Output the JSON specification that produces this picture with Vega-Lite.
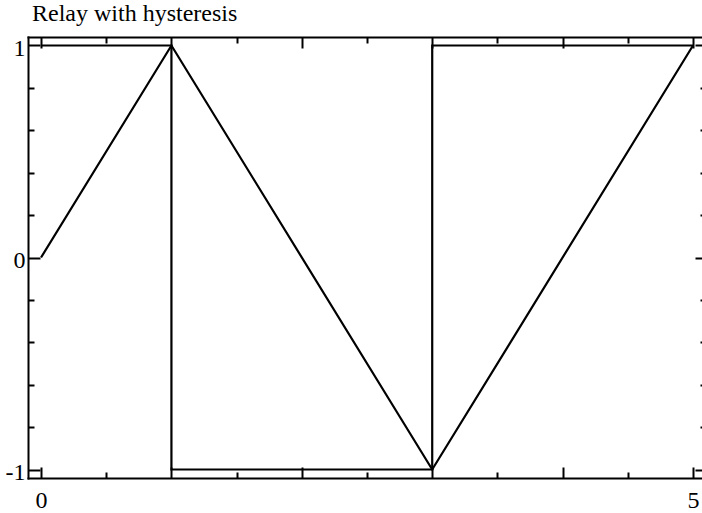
{
  "$schema": "https://vega.github.io/schema/vega-lite/v6.json",
  "autosize": {"type": "none"},
  "padding": {"left": 28, "top": 37, "right": 0, "bottom": 35},
  "width": 674,
  "height": 441,
  "background": "white",
  "title": {
    "text": "Relay with hysteresis",
    "anchor": "start",
    "frame": "group",
    "font": "Liberation Serif",
    "fontSize": 24,
    "fontWeight": "normal",
    "color": "black",
    "baseline": "alphabetic",
    "offset": 14,
    "dx": 4,
    "dy": 23
  },
  "datasets": {
    "tri": [
      {"x": 0, "y": 0, "i": 0},
      {"x": 1, "y": 1, "i": 1},
      {"x": 3, "y": -1, "i": 2},
      {"x": 5, "y": 1, "i": 3}
    ],
    "relay": [
      {"x": 0, "y": 1, "i": 0},
      {"x": 1, "y": 1, "i": 1},
      {"x": 1, "y": -1, "i": 2},
      {"x": 3, "y": -1, "i": 3},
      {"x": 3, "y": 1, "i": 4},
      {"x": 5, "y": 1, "i": 5}
    ]
  },
  "config": {
    "view": {"stroke": null},
    "axis": {
      "grid": false,
      "title": null,
      "minExtent": 0,
      "domainColor": "black",
      "domainWidth": 2,
      "domainCap": "square",
      "tickColor": "black",
      "tickWidth": 2,
      "labelFont": "Liberation Serif",
      "labelFontSize": 24,
      "labelColor": "black",
      "labelFlush": false,
      "labelOverlap": false,
      "labelBound": false
    }
  },
  "resolve": {"axis": {"x": "independent", "y": "independent"}},
  "layer": [
    {
      "data": {"name": "tri"},
      "mark": {"type": "line", "color": "black", "strokeWidth": 2.2},
      "encoding": {
        "x": {
          "field": "x", "type": "quantitative",
          "scale": {"domain": [-0.1, 5.069], "nice": false, "zero": false},
          "axis": {
            "orient": "bottom", "values": [0, 1, 2, 3, 4, 5],
            "tickSize": -11, "labelPadding": 21,
            "labelExpr": "datum.value == 0 || datum.value == 5 ? '' + datum.value : ''"
          }
        },
        "y": {
          "field": "y", "type": "quantitative",
          "scale": {"domain": [-1.04, 1.04], "nice": false, "zero": false},
          "axis": {
            "orient": "left", "values": [-1, 0, 1],
            "tickSize": -12, "labelPadding": 15, "labelOffset": 3,
            "labelExpr": "'' + datum.value"
          }
        },
        "order": {"field": "i", "type": "quantitative"}
      }
    },
    {
      "data": {"name": "relay"},
      "mark": {"type": "line", "color": "black", "strokeWidth": 2.2},
      "encoding": {
        "x": {
          "field": "x", "type": "quantitative",
          "scale": {"domain": [-0.1, 5.069], "nice": false, "zero": false},
          "axis": {
            "orient": "top", "values": [0, 1, 2, 3, 4, 5],
            "tickSize": -11, "labels": false
          }
        },
        "y": {
          "field": "y", "type": "quantitative",
          "scale": {"domain": [-1.04, 1.04], "nice": false, "zero": false},
          "axis": {
            "orient": "right", "values": [-1, 0, 1],
            "tickSize": -7, "labels": false, "domain": false
          }
        },
        "order": {"field": "i", "type": "quantitative"}
      }
    },
    {
      "data": {"name": "tri"},
      "mark": {"type": "point", "opacity": 0},
      "encoding": {
        "x": {
          "field": "x", "type": "quantitative",
          "scale": {"domain": [-0.1, 5.069], "nice": false, "zero": false},
          "axis": {
            "orient": "bottom", "values": [0.5, 1.5, 2.5, 3.5, 4.5],
            "tickSize": -6, "labels": false, "domain": false
          }
        },
        "y": {
          "field": "y", "type": "quantitative",
          "scale": {"domain": [-1.04, 1.04], "nice": false, "zero": false},
          "axis": {
            "orient": "left", "values": [-0.8, -0.6, -0.4, -0.2, 0.2, 0.4, 0.6, 0.8],
            "tickSize": -6, "labels": false, "domain": false
          }
        }
      }
    },
    {
      "data": {"name": "tri"},
      "mark": {"type": "point", "opacity": 0},
      "encoding": {
        "x": {
          "field": "x", "type": "quantitative",
          "scale": {"domain": [-0.1, 5.069], "nice": false, "zero": false},
          "axis": {
            "orient": "top", "values": [0.5, 1.5, 2.5, 3.5, 4.5],
            "tickSize": -6, "labels": false, "domain": false
          }
        },
        "y": {
          "field": "y", "type": "quantitative",
          "scale": {"domain": [-1.04, 1.04], "nice": false, "zero": false},
          "axis": {
            "orient": "right", "values": [-0.8, -0.6, -0.4, -0.2, 0.2, 0.4, 0.6, 0.8],
            "tickSize": -2, "labels": false, "domain": false
          }
        }
      }
    }
  ]
}
